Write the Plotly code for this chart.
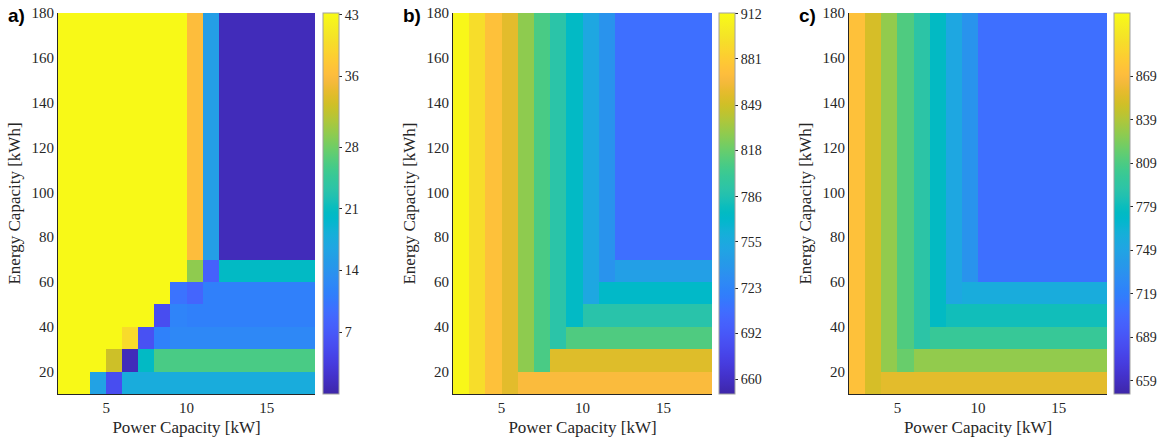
import plotly.graph_objects as go

# ---------------- data ----------------
power_edges = [2, 3, 4, 5, 6, 7, 8, 9, 10, 11, 12, 13, 14, 15, 16, 17, 18]          # kW cell edges
energy_edges = [10, 20, 30, 40, 50, 60, 70, 80, 90, 100, 110, 120, 130, 140, 150, 160, 170, 180]  # kWh cell edges

# rows from bottom (10-20 kWh) to top (170-180 kWh); columns power 2-3 ... 17-18 kW
z_a = [
    [43, 43, 16, 5.5, 17.7, 17.7, 17.7, 17.7, 17.7, 17.7, 17.7, 17.7, 17.7, 17.7, 17.7, 17.7],
    [43, 43, 43, 32.7, 1, 20.5, 26, 26, 26, 26, 26, 26, 26, 26, 26, 26],
    [43, 43, 43, 43, 39.6, 6, 11.6, 12.5, 12.5, 12.5, 12.5, 12.5, 12.5, 12.5, 12.5, 12.5],
    [43, 43, 43, 43, 43, 43, 5.5, 12, 11.5, 11.5, 11.5, 11.5, 11.5, 11.5, 11.5, 11.5],
    [43, 43, 43, 43, 43, 43, 43, 10, 8.5, 11.5, 11.5, 11.5, 11.5, 11.5, 11.5, 11.5],
    [43, 43, 43, 43, 43, 43, 43, 43, 29.5, 8, 20.5, 20.5, 20.5, 20.5, 20.5, 20.5],
    [43, 43, 43, 43, 43, 43, 43, 43, 36.2, 15.5, 1, 1, 1, 1, 1, 1],
    [43, 43, 43, 43, 43, 43, 43, 43, 36.2, 15.5, 1, 1, 1, 1, 1, 1],
    [43, 43, 43, 43, 43, 43, 43, 43, 36.2, 15.5, 1, 1, 1, 1, 1, 1],
    [43, 43, 43, 43, 43, 43, 43, 43, 36.2, 15.5, 1, 1, 1, 1, 1, 1],
    [43, 43, 43, 43, 43, 43, 43, 43, 36.2, 15.5, 1, 1, 1, 1, 1, 1],
    [43, 43, 43, 43, 43, 43, 43, 43, 36.2, 15.5, 1, 1, 1, 1, 1, 1],
    [43, 43, 43, 43, 43, 43, 43, 43, 36.2, 15.5, 1, 1, 1, 1, 1, 1],
    [43, 43, 43, 43, 43, 43, 43, 43, 36.2, 15.5, 1, 1, 1, 1, 1, 1],
    [43, 43, 43, 43, 43, 43, 43, 43, 36.2, 15.5, 1, 1, 1, 1, 1, 1],
    [43, 43, 43, 43, 43, 43, 43, 43, 36.2, 15.5, 1, 1, 1, 1, 1, 1],
    [43, 43, 43, 43, 43, 43, 43, 43, 36.2, 15.5, 1, 1, 1, 1, 1, 1],
]

z_b = [
    [910, 892, 873, 857, 868, 868, 868, 868, 868, 868, 868, 868, 868, 868, 868, 868],
    [910, 892, 873, 857, 829, 808, 855, 855, 855, 855, 855, 855, 855, 855, 855, 855],
    [910, 892, 873, 857, 829, 808, 791, 810, 810, 810, 810, 810, 810, 810, 810, 810],
    [910, 892, 873, 857, 829, 808, 791, 774, 790, 790, 790, 790, 790, 790, 790, 790],
    [910, 892, 873, 857, 829, 808, 791, 774, 752, 772, 772, 772, 772, 772, 772, 772],
    [910, 892, 873, 857, 829, 808, 791, 774, 752, 735, 745, 745, 745, 745, 745, 745],
    [910, 892, 873, 857, 829, 808, 791, 774, 752, 735, 708, 708, 708, 708, 708, 708],
    [910, 892, 873, 857, 829, 808, 791, 774, 752, 735, 708, 708, 708, 708, 708, 708],
    [910, 892, 873, 857, 829, 808, 791, 774, 752, 735, 708, 708, 708, 708, 708, 708],
    [910, 892, 873, 857, 829, 808, 791, 774, 752, 735, 708, 708, 708, 708, 708, 708],
    [910, 892, 873, 857, 829, 808, 791, 774, 752, 735, 708, 708, 708, 708, 708, 708],
    [910, 892, 873, 857, 829, 808, 791, 774, 752, 735, 708, 708, 708, 708, 708, 708],
    [910, 892, 873, 857, 829, 808, 791, 774, 752, 735, 708, 708, 708, 708, 708, 708],
    [910, 892, 873, 857, 829, 808, 791, 774, 752, 735, 708, 708, 708, 708, 708, 708],
    [910, 892, 873, 857, 829, 808, 791, 774, 752, 735, 708, 708, 708, 708, 708, 708],
    [910, 892, 873, 857, 829, 808, 791, 774, 752, 735, 708, 708, 708, 708, 708, 708],
    [910, 892, 873, 857, 829, 808, 791, 774, 752, 735, 708, 708, 708, 708, 708, 708],
]

z_c = [
    [873, 852, 857, 857, 857, 857, 857, 857, 857, 857, 857, 857, 857, 857, 857, 857],
    [873, 852, 830, 818, 830, 830, 830, 830, 830, 830, 830, 830, 830, 830, 830, 830],
    [873, 852, 830, 810, 792, 800, 800, 800, 800, 800, 800, 800, 800, 800, 800, 800],
    [873, 852, 830, 810, 792, 775, 781, 781, 781, 781, 781, 781, 781, 781, 781, 781],
    [873, 852, 830, 810, 792, 775, 752, 757, 757, 757, 757, 757, 757, 757, 757, 757],
    [873, 852, 830, 810, 792, 775, 752, 735, 711, 711, 711, 711, 711, 711, 711, 711],
    [873, 852, 830, 810, 792, 775, 752, 735, 708, 708, 708, 708, 708, 708, 708, 708],
    [873, 852, 830, 810, 792, 775, 752, 735, 708, 708, 708, 708, 708, 708, 708, 708],
    [873, 852, 830, 810, 792, 775, 752, 735, 708, 708, 708, 708, 708, 708, 708, 708],
    [873, 852, 830, 810, 792, 775, 752, 735, 708, 708, 708, 708, 708, 708, 708, 708],
    [873, 852, 830, 810, 792, 775, 752, 735, 708, 708, 708, 708, 708, 708, 708, 708],
    [873, 852, 830, 810, 792, 775, 752, 735, 708, 708, 708, 708, 708, 708, 708, 708],
    [873, 852, 830, 810, 792, 775, 752, 735, 708, 708, 708, 708, 708, 708, 708, 708],
    [873, 852, 830, 810, 792, 775, 752, 735, 708, 708, 708, 708, 708, 708, 708, 708],
    [873, 852, 830, 810, 792, 775, 752, 735, 708, 708, 708, 708, 708, 708, 708, 708],
    [873, 852, 830, 810, 792, 775, 752, 735, 708, 708, 708, 708, 708, 708, 708, 708],
    [873, 852, 830, 810, 792, 775, 752, 735, 708, 708, 708, 708, 708, 708, 708, 708],
]

cbar_ticks_a = [7, 14, 21, 28, 36, 43]
cbar_ticks_b = [660, 692, 723, 755, 786, 818, 849, 881, 912]
cbar_ticks_c = [659, 689, 719, 749, 779, 809, 839, 869]
x_ticks = [5, 10, 15]
y_ticks = [20, 40, 60, 80, 100, 120, 140, 160, 180]
panel_labels = ["a)", "b)", "c)"]
x_title = "Power Capacity [kW]"
y_title = "Energy Capacity [kWh]"

# ---------------- parula colormap (MATLAB R2014b) ----------------
_parula = [
    [0.2422, 0.1504, 0.6603], [0.2504, 0.1650, 0.7076], [0.2578, 0.1818, 0.7511], [0.2647, 0.1978, 0.7952],
    [0.2706, 0.2147, 0.8364], [0.2751, 0.2342, 0.8710], [0.2783, 0.2559, 0.8991], [0.2803, 0.2782, 0.9221],
    [0.2813, 0.3006, 0.9414], [0.2810, 0.3228, 0.9579], [0.2795, 0.3447, 0.9717], [0.2760, 0.3667, 0.9829],
    [0.2699, 0.3892, 0.9906], [0.2602, 0.4123, 0.9952], [0.2440, 0.4358, 0.9988], [0.2206, 0.4603, 0.9973],
    [0.1963, 0.4847, 0.9892], [0.1834, 0.5074, 0.9798], [0.1786, 0.5289, 0.9682], [0.1764, 0.5499, 0.9520],
    [0.1687, 0.5703, 0.9359], [0.1540, 0.5902, 0.9218], [0.1460, 0.6091, 0.9079], [0.1380, 0.6276, 0.8973],
    [0.1248, 0.6459, 0.8883], [0.1113, 0.6635, 0.8763], [0.0952, 0.6798, 0.8598], [0.0689, 0.6948, 0.8394],
    [0.0297, 0.7082, 0.8163], [0.0036, 0.7203, 0.7917], [0.0067, 0.7312, 0.7660], [0.0433, 0.7411, 0.7394],
    [0.0964, 0.7500, 0.7120], [0.1408, 0.7584, 0.6842], [0.1717, 0.7670, 0.6554], [0.1938, 0.7758, 0.6251],
    [0.2161, 0.7843, 0.5923], [0.2470, 0.7918, 0.5567], [0.2906, 0.7973, 0.5188], [0.3406, 0.8008, 0.4789],
    [0.3909, 0.8029, 0.4354], [0.4456, 0.8024, 0.3909], [0.5044, 0.7993, 0.3480], [0.5616, 0.7942, 0.3092],
    [0.6174, 0.7876, 0.2734], [0.6720, 0.7793, 0.2381], [0.7242, 0.7698, 0.2041], [0.7738, 0.7598, 0.1674],
    [0.8203, 0.7498, 0.1535], [0.8634, 0.7406, 0.1596], [0.9035, 0.7330, 0.1774], [0.9393, 0.7288, 0.2100],
    [0.9728, 0.7298, 0.2394], [0.9956, 0.7434, 0.2371], [0.9970, 0.7659, 0.2199], [0.9952, 0.7893, 0.2028],
    [0.9892, 0.8136, 0.1885], [0.9786, 0.8386, 0.1766], [0.9676, 0.8639, 0.1643], [0.9610, 0.8890, 0.1537],
    [0.9597, 0.9135, 0.1423], [0.9628, 0.9373, 0.1265], [0.9691, 0.9606, 0.1064], [0.9769, 0.9839, 0.0805],
]
n = len(_parula)
parula = [[i / (n - 1), "rgb(%d,%d,%d)" % tuple(round(c * 255) for c in col)] for i, col in enumerate(_parula)]

# ---------------- layout geometry (pixels) ----------------
W, H = 1162, 443
top_px, bot_px = 13, 394
plot_px = [(58, 315), (453, 712), (849, 1107)]
cbar_px = [323, 719, 1114]
cbar_w = 16
ML, MR, MT, MB = plot_px[0][0], W - plot_px[2][1], top_px, H - bot_px
PW = W - ML - MR
PH = H - MT - MB


def px_to_paper_x(px):
    return (px - ML) / PW


serif = "Liberation Serif, Times New Roman, serif"
tick_font = dict(family=serif, size=15, color="#262626")
cbar_font = dict(family=serif, size=14, color="#262626")
title_font = dict(family=serif, size=17, color="#262626")

fig = go.Figure()
zs = [z_a, z_b, z_c]
ranges = [(0, 43.2), (650, 912.5), (650, 912.5)]
cticks = [cbar_ticks_a, cbar_ticks_b, cbar_ticks_c]

for i in range(3):
    xa = "x" if i == 0 else "x%d" % (i + 1)
    ya = "y" if i == 0 else "y%d" % (i + 1)
    fig.add_trace(go.Heatmap(
        x=power_edges, y=energy_edges, z=zs[i],
        colorscale=parula, zmin=ranges[i][0], zmax=ranges[i][1],
        xaxis=xa, yaxis=ya, hoverinfo="x+y+z",
        colorbar=dict(
            x=px_to_paper_x(cbar_px[i]), xanchor="left", xpad=0, ypad=0,
            y=1, yanchor="top", len=1, lenmode="fraction",
            thickness=cbar_w, thicknessmode="pixels",
            outlinewidth=1, outlinecolor="#a0a0a0",
            tickvals=cticks[i], ticktext=[str(t) for t in cticks[i]],
            ticks="outside", ticklen=3, tickcolor="#262626",
            tickfont=cbar_font,
        ),
    ))
    xkey = "xaxis" if i == 0 else "xaxis%d" % (i + 1)
    ykey = "yaxis" if i == 0 else "yaxis%d" % (i + 1)
    fig.layout[xkey] = dict(
        domain=[px_to_paper_x(plot_px[i][0]), px_to_paper_x(plot_px[i][1])], anchor=ya,
        range=[2, 18], tickvals=x_ticks, ticks="", showgrid=False, zeroline=False,
        showline=True, linecolor="#262626", linewidth=1,
        tickfont=tick_font, automargin=False,
        title=dict(text=x_title, font=title_font, standoff=6),
    )
    fig.layout[ykey] = dict(
        domain=[0, 1], anchor=xa,
        range=[10, 180], tickvals=y_ticks, ticks="", showgrid=False, zeroline=False,
        showline=True, linecolor="#262626", linewidth=1,
        tickfont=tick_font, automargin=False,
        title=dict(text=y_title, font=title_font, standoff=6),
    )
    fig.add_annotation(
        text="<b>%s</b>" % panel_labels[i], xref="paper", yref="paper",
        x=px_to_paper_x(plot_px[i][0] - 52), y=1 - 2 / PH, xanchor="left", yanchor="middle",
        showarrow=False, font=dict(family="Liberation Sans, Arial, sans-serif", size=19, color="#000000"),
    )

fig.update_layout(
    width=W, height=H, margin=dict(l=ML, r=MR, t=MT, b=MB, autoexpand=False),
    paper_bgcolor="white", plot_bgcolor="white", showlegend=False,
)

fig.write_html(
    "out.html",
    config={"displayModeBar": False},
    post_script="document.body.style.margin='0';document.body.style.overflow='hidden';",
)
